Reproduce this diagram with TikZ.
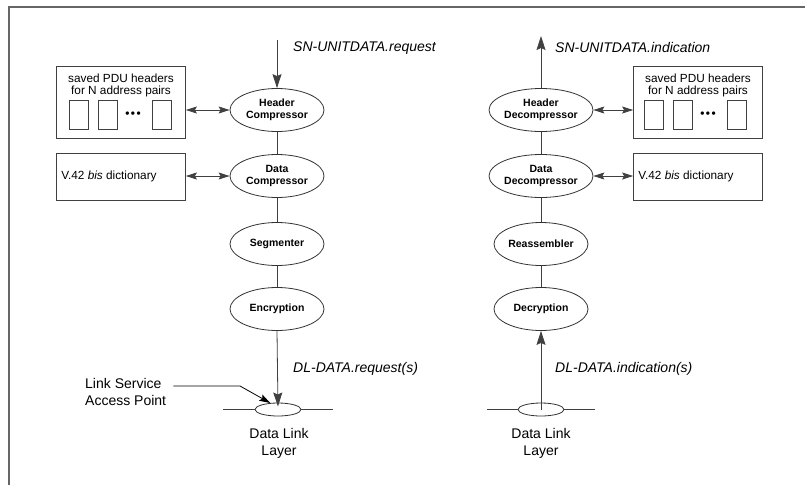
\documentclass[tikz,border=0pt]{standalone}
\usepackage{fontspec}
\setmainfont{Liberation Sans}
\usetikzlibrary{positioning,arrows.meta,calc,shapes.geometric}
\tikzset{
  procnode/.style={ellipse, draw=black!80, line width=0.8pt, minimum width=94pt,
    minimum height=43pt, inner sep=0pt, align=center,
    font=\fontsize{10.5}{12.5}\selectfont\bfseries},
  storebox/.style={draw=black!75, line width=0.8pt, minimum width=129pt, inner sep=0pt},
  slotbox/.style={draw=black!75, line width=0.7pt, minimum width=19pt,
    minimum height=29pt, inner sep=0pt},
  flowline/.style={draw=black!75, line width=0.8pt},
  flowarrow/.style={flowline, -{Stealth[length=14pt,width=9pt,inset=2pt]}},
  swaparrow/.style={flowline, {Stealth[length=11pt,width=7pt,inset=2pt]}-{Stealth[length=11pt,width=7pt,inset=2pt]}},
  pointer/.style={draw=black, line width=0.8pt, -{Stealth[length=11pt,width=7pt,inset=2pt]}},
  primlabel/.style={font=\fontsize{14}{16}\selectfont\itshape, anchor=west, inner sep=0pt},
  boxtext/.style={font=\fontsize{11.8}{12.5}\selectfont, align=center, inner sep=0pt},
  plaintext/.style={font=\fontsize{14}{17}\selectfont, align=center, inner sep=0pt},
  sapring/.style={ellipse, draw=black!80, line width=0.8pt, minimum width=46pt,
    minimum height=13pt, inner sep=0pt},
  frameline/.style={draw=black!60, line width=1.3pt},
}

\begin{document}
\begin{tikzpicture}[x=1pt, y=-1pt]
  \useasboundingbox (0,0) rectangle (805,485);
  \draw[frameline] (805,7) -- (9,7) -- (9,485);

  % sending side
  \node[procnode] (hcomp) at (277,110) {Header\\Compressor};
  \node[procnode] (dcomp) at (277,176) {Data\\Compressor};
  \node[procnode] (segm) at (277,244) {Segmenter};
  \node[procnode] (encr) at (277,309) {Encryption};
  \coordinate (reqtop) at (277,40);
  \draw[flowarrow] (reqtop) -- (hcomp.north);
  \draw[flowline] (hcomp) -- (dcomp) (dcomp) -- (segm) (segm) -- (encr);
  \node[primlabel] (reqlbl) at (293,48) {SN-UNITDATA.request};

  \node[storebox, minimum height=72pt] (savedL) at (121,102) {};
  \node[boxtext] (savedLtxt) at (121,85.5) {saved PDU headers\\for N address pairs};
  \node[slotbox] (slotLa) at (78.5,114.5) {};
  \node[slotbox] (slotLb) at (107.5,114.5) {};
  \node[boxtext] (dotsL) at (133,115) {\textbf{\textbullet\kern1.5pt\textbullet\kern1.5pt\textbullet}};
  \node[slotbox] (slotLc) at (162,114.5) {};
  \draw[swaparrow] (savedL.east |- hcomp.west) -- (hcomp.west);

  \node[storebox, minimum height=47pt] (dictL) at (121,176.5) {};
  \node[boxtext, anchor=west] (dictLtxt) at ([xshift=5pt]dictL.west) {V.42 \textit{bis} dictionary};
  \draw[swaparrow] (dictL.east |- dcomp.west) -- (dcomp.west);

  \node[sapring] (sapL) at (278,409.5) {};
  \coordinate (sapLw) at (223,409.5);
  \coordinate (sapLe) at (333,409.5);
  \draw[flowline] (sapLw) -- (sapL.west) (sapL.east) -- (sapLe);
  \draw[flowarrow, shorten >=3pt] (encr.south) -- (sapL.center);
  \node[primlabel] (dlreq) at (293,369) {DL-DATA.request(s)};
  \node[plaintext] (dllL) at (279,443) {Data Link\\Layer};

  \node[plaintext, align=left, anchor=west] (lsap) at (85,391.5) {Link Service\\Access Point};
  \coordinate (bendL) at (240,386);
  \draw[pointer] ([xshift=7pt]lsap.east |- bendL) -- (bendL) -- (sapL.140);

  % receiving side
  \node[procnode] (hdec) at (541,110) {Header\\Decompressor};
  \node[procnode] (ddec) at (541,176) {Data\\Decompressor};
  \node[procnode] (reasm) at (541,244) {Reassembler};
  \node[procnode] (decr) at (541,309) {Decryption};
  \coordinate (indtop) at (541,36);
  \draw[flowarrow] (hdec.north) -- (indtop);
  \draw[flowline] (hdec) -- (ddec) (ddec) -- (reasm) (reasm) -- (decr);
  \node[primlabel] (indlbl) at (555,47) {SN-UNITDATA.indication};

  \node[storebox, minimum height=72pt] (savedR) at (698,102) {};
  \node[boxtext] (savedRtxt) at (698,85.5) {saved PDU headers\\for N address pairs};
  \node[slotbox] (slotRa) at (653.5,114.5) {};
  \node[slotbox] (slotRb) at (682.5,114.5) {};
  \node[boxtext] (dotsR) at (708,115) {\textbf{\textbullet\kern1.5pt\textbullet\kern1.5pt\textbullet}};
  \node[slotbox] (slotRc) at (737,114.5) {};
  \draw[swaparrow] (hdec.east) -- (savedR.west |- hdec.east);

  \node[storebox, minimum height=47pt] (dictR) at (698,176.5) {};
  \node[boxtext, anchor=west] (dictRtxt) at ([xshift=5pt]dictR.west) {V.42 \textit{bis} dictionary};
  \draw[swaparrow] (ddec.east) -- (dictR.west |- ddec.east);

  \node[sapring] (sapR) at (541,409.5) {};
  \coordinate (sapRw) at (487,409.5);
  \coordinate (sapRe) at (595,409.5);
  \draw[flowline] (sapRw) -- (sapR.west) (sapR.east) -- (sapRe);
  \draw[flowarrow] (sapR.center) -- (decr.south);
  \node[primlabel] (dlind) at (555,369) {DL-DATA.indication(s)};
  \node[plaintext] (dllR) at (541,443) {Data Link\\Layer};
\end{tikzpicture}
\end{document}
